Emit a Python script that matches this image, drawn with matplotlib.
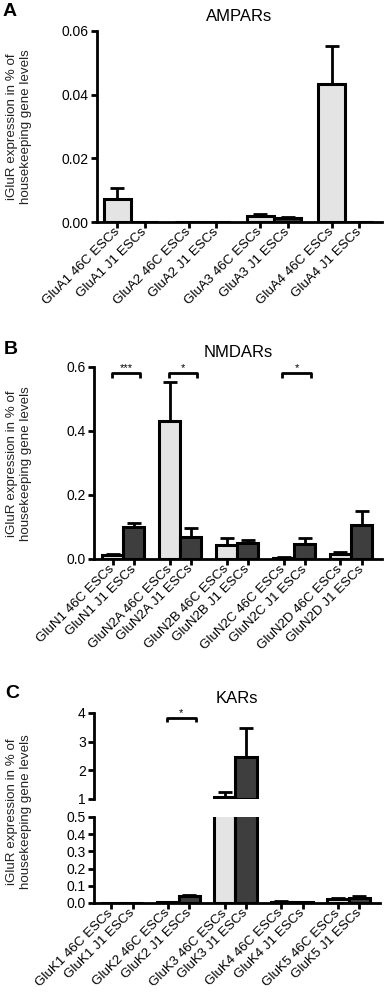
import matplotlib
matplotlib.use('Agg')
import matplotlib.pyplot as plt
import numpy as np

plt.rcParams['font.family'] = ['Liberation Sans', 'DejaVu Sans']

# ---------------- data ----------------
ampa_genes = ["GluA1", "GluA2", "GluA3", "GluA4"]
ampa_46c = [0.0073, 0.0, 0.0019, 0.0432]
ampa_46c_err = [0.0033, 0.0, 0.0005, 0.0121]
ampa_j1 = [0.0, 0.0, 0.0012, 0.0]
ampa_j1_err = [0.0, 0.0, 0.0003, 0.0]
ampa_yticks = [0.00, 0.02, 0.04, 0.06]
ampa_yticklabels = ["0.00", "0.02", "0.04", "0.06"]

nmda_genes = ["GluN1", "GluN2A", "GluN2B", "GluN2C", "GluN2D"]
nmda_46c = [0.012, 0.432, 0.044, 0.004, 0.016]
nmda_46c_err = [0.004, 0.120, 0.021, 0.002, 0.005]
nmda_j1 = [0.099, 0.069, 0.049, 0.047, 0.107]
nmda_j1_err = [0.012, 0.029, 0.010, 0.018, 0.043]
nmda_sig_groups = [0, 1, 3]
nmda_sig_marks = ["***", "*", "*"]
nmda_yticks = [0.0, 0.2, 0.4, 0.6]
nmda_yticklabels = ["0.0", "0.2", "0.4", "0.6"]

kar_genes = ["GluK1", "GluK2", "GluK3", "GluK4", "GluK5"]
kar_46c = [0.0, 0.004, 1.06, 0.008, 0.022]
kar_46c_err = [0.0, 0.001, 0.20, 0.002, 0.006]
kar_j1 = [0.0, 0.038, 2.46, 0.006, 0.030]
kar_j1_err = [0.0, 0.008, 1.02, 0.002, 0.008]
kar_sig_groups = [1]
kar_sig_marks = ["*"]
kar_top_yticks = [1, 2, 3, 4]
kar_top_yticklabels = ["1", "2", "3", "4"]
kar_bot_yticks = [0.0, 0.1, 0.2, 0.3, 0.4, 0.5]
kar_bot_yticklabels = ["0.0", "0.1", "0.2", "0.3", "0.4", "0.5"]

cell_lines = ["46C ESCs", "J1 ESCs"]

# ---------------- style ----------------
C46 = "#e4e4e4"
CJ1 = "#3e3e3e"
EDGE_LW = 2.2
SPINE_LW = 2.0
TICK_FS = 10
XLAB_FS = 9.6
YLAB = "iGluR expression in % of\nhousekeeping gene levels"

fig = plt.figure(figsize=(3.86, 9.92), dpi=100)


def positions(n, spacing):
    base = np.arange(n) * spacing
    return base, base + 1.0


def style_axis(ax, show_x=True):
    for s in ["top", "right"]:
        ax.spines[s].set_visible(False)
    ax.spines["left"].set_linewidth(SPINE_LW)
    ax.spines["bottom"].set_linewidth(SPINE_LW)
    ax.tick_params(axis="both", direction="out", length=4.5, width=SPINE_LW,
                   labelsize=TICK_FS, pad=1.5, color="black")
    if not show_x:
        ax.spines["bottom"].set_visible(False)
        ax.tick_params(axis="x", bottom=False, labelbottom=False)


def draw_bars(ax, genes, v46, e46, vj1, ej1, spacing, bottom=0.0):
    p46, pj1 = positions(len(genes), spacing)
    for pos, vals, errs, col in [(p46, v46, e46, C46), (pj1, vj1, ej1, CJ1)]:
        vals = np.asarray(vals, float)
        errs = np.asarray(errs, float)
        ax.bar(pos, vals - bottom, bottom=bottom, width=1.0, color=col,
               edgecolor="black", linewidth=EDGE_LW, zorder=2)
        m = errs > 0
        ax.errorbar(pos[m], vals[m], yerr=[np.zeros(m.sum()), errs[m]],
                    fmt="none", ecolor="black", elinewidth=2.0, capsize=5,
                    capthick=2.0, zorder=1)
    return p46, pj1


def set_xlabels(ax, genes, p46, pj1):
    ticks = np.ravel(np.column_stack([p46, pj1]))
    labels = []
    for g in genes:
        labels += [f"{g} {cell_lines[0]}", f"{g} {cell_lines[1]}"]
    ax.set_xticks(ticks)
    ax.set_xticklabels(labels, rotation=45, ha="right", va="center",
                       rotation_mode="anchor", fontsize=XLAB_FS)


def brackets(ax, p46, pj1, groups, marks, y, drop):
    for g, mk in zip(groups, marks):
        x0 = p46[g] - 0.05
        x1 = pj1[g] + 0.3
        ax.plot([x0, x0, x1, x1], [y - drop, y, y, y - drop], color="black",
                lw=2.0, clip_on=False, solid_capstyle="butt", zorder=5)
        ax.text((x0 + x1) / 2, y, mk, ha="center", va="bottom", fontsize=8,
                clip_on=False)


# ---------------- Panel A ----------------
sp_a = 2.62
axA = fig.add_axes([97 / 386, 1 - 222 / 992, 285 / 386, 191 / 992])
pa46, paj1 = draw_bars(axA, ampa_genes, ampa_46c, ampa_46c_err, ampa_j1,
                       ampa_j1_err, sp_a)
axA.set_ylim(0, 0.06)
axA.set_xlim(-0.75, pa46[-1] + 1 + 0.84)
axA.set_yticks(ampa_yticks)
axA.set_yticklabels(ampa_yticklabels)
style_axis(axA)
set_xlabels(axA, ampa_genes, pa46, paj1)
axA.set_title("AMPARs", fontsize=12, pad=7)
fig.text(19 / 386, 1 - 127 / 992, YLAB, rotation=90, ha="center",
         va="center", fontsize=9.6, color="#222222")
fig.text(10 / 386, 1 - 12 / 992, "A", fontsize=14, fontweight="bold",
         ha="center", va="center")

# ---------------- Panel B ----------------
sp_b = 2.7
axB = fig.add_axes([94 / 386, 1 - 559 / 992, 288 / 386, 192 / 992])
pb46, pbj1 = draw_bars(axB, nmda_genes, nmda_46c, nmda_46c_err, nmda_j1,
                       nmda_j1_err, sp_b)
axB.set_ylim(0, 0.6)
axB.set_xlim(-0.89, pb46[-1] + 1 + 0.97)
axB.set_yticks(nmda_yticks)
axB.set_yticklabels(nmda_yticklabels)
style_axis(axB)
set_xlabels(axB, nmda_genes, pb46, pbj1)
axB.set_title("NMDARs", fontsize=12, pad=7)
brackets(axB, pb46, pbj1, nmda_sig_groups, nmda_sig_marks, 0.582, 0.016)
fig.text(19 / 386, 1 - 464 / 992, YLAB, rotation=90, ha="center",
         va="center", fontsize=9.6, color="#222222")
fig.text(11 / 386, 1 - 350 / 992, "B", fontsize=14, fontweight="bold",
         ha="center", va="center")

# ---------------- Panel C ----------------
sp_c = 2.65
axCt = fig.add_axes([94 / 386, 1 - 799 / 992, 286 / 386, 86 / 992])
axCb = fig.add_axes([94 / 386, 1 - 903 / 992, 286 / 386, 86 / 992])

# top (broken) part: only bars above 1
k46 = np.asarray(kar_46c)
kj1 = np.asarray(kar_j1)
pc46, pcj1 = positions(len(kar_genes), sp_c)
top_lo = kar_top_yticks[0]
for pos, vals, errs, col in [(pc46, k46, np.asarray(kar_46c_err), C46),
                             (pcj1, kj1, np.asarray(kar_j1_err), CJ1)]:
    m = vals > top_lo
    axCt.bar(pos[m], vals[m] - top_lo, bottom=top_lo, width=1.0, color=col,
             edgecolor="black", linewidth=EDGE_LW, zorder=2)
    axCt.errorbar(pos[m], vals[m], yerr=[np.zeros(m.sum()), errs[m]],
                  fmt="none", ecolor="black", elinewidth=2.0, capsize=5,
                  capthick=2.0, zorder=1)
axCt.set_ylim(top_lo, kar_top_yticks[-1])
axCt.set_xlim(-0.81, pc46[-1] + 1 + 0.97)
axCt.set_yticks(kar_top_yticks)
axCt.set_yticklabels(kar_top_yticklabels)
style_axis(axCt, show_x=False)
axCt.set_title("KARs", fontsize=12, pad=7)
brackets(axCt, pc46, pcj1, kar_sig_groups, kar_sig_marks, 3.83, 0.14)

draw_bars(axCb, kar_genes, kar_46c, kar_46c_err, kar_j1, kar_j1_err, sp_c)
axCb.set_ylim(0, 0.5)
axCb.set_xlim(-0.81, pc46[-1] + 1 + 0.97)
axCb.set_yticks(kar_bot_yticks)
axCb.set_yticklabels(kar_bot_yticklabels)
style_axis(axCb)
set_xlabels(axCb, kar_genes, pc46, pcj1)

fig.text(19 / 386, 1 - 812 / 992, YLAB, rotation=90, ha="center",
         va="center", fontsize=9.6, color="#222222")
fig.text(12 / 386, 1 - 693 / 992, "C", fontsize=14, fontweight="bold",
         ha="center", va="center")

fig.savefig("out.png", dpi=100)
